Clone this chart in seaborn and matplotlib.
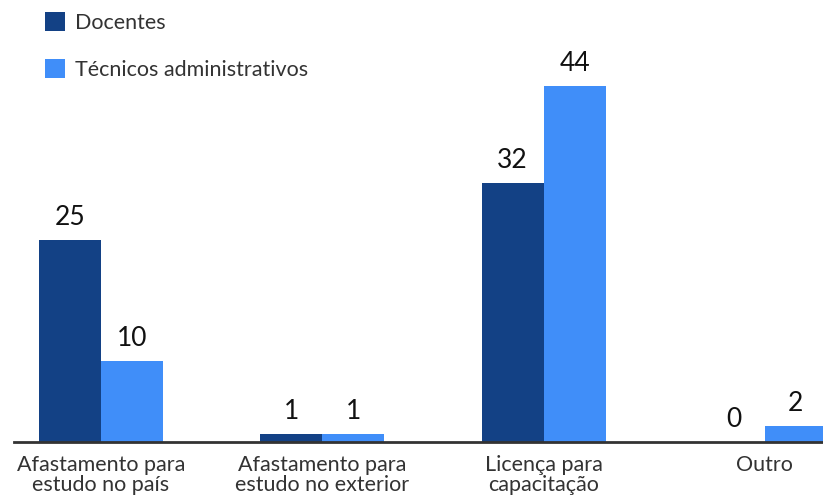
import matplotlib
matplotlib.use("Agg")
import matplotlib.pyplot as plt
import seaborn as sns
import pandas as pd

categories = ["Afastamento para\nestudo no país", "Afastamento para\nestudo no exterior",
              "Licença para\ncapacitação", "Outro"]
docentes = [25, 1, 32, 0]
tecnicos = [10, 1, 44, 2]
series_names = ["Docentes", "Técnicos administrativos"]

df = pd.DataFrame({
    "categoria": categories * 2,
    "valor": docentes + tecnicos,
    "grupo": [series_names[0]] * len(categories) + [series_names[1]] * len(categories),
})

sns.set_style("white")
plt.rcParams["font.family"] = ["Lato", "DejaVu Sans"]

fig = plt.figure(figsize=(8.23, 4.99), dpi=100)
ax = fig.add_axes([0.0, 0.1142, 1.0, 0.8858])

palette = {series_names[0]: "#134185", series_names[1]: "#408ef9"}
sns.barplot(data=df, x="categoria", y="valor", hue="grupo", palette=palette,
            width=0.56, saturation=1, linewidth=0, ax=ax, order=categories,
            hue_order=series_names)

for cont in ax.containers:
    ax.bar_label(cont, labels=[f"{v:g}" for v in cont.datavalues], padding=7,
                 fontsize=19, color="#111111")

unit = 221.3
ax.set_ylim(0, 54.6)
ax.set_xlim(-101 / unit, (823 - 101) / unit)
ax.set_xlabel("")
ax.set_ylabel("")
ax.set_yticks([])
for s in ["top", "right", "left"]:
    ax.spines[s].set_visible(False)
ax.spines["bottom"].set_color("#333333")
ax.spines["bottom"].set_linewidth(2)
ax.spines["bottom"].set_bounds((14 - 101) / unit, (823 - 101) / unit)
ax.tick_params(axis="x", length=0, pad=9, labelsize=15.5, labelcolor="#333333")
for t in ax.get_xticklabels():
    t.set_linespacing(1.0)

handles, labels = ax.get_legend_handles_labels()
ax.legend(handles, labels, loc="upper left", bbox_to_anchor=(45 / 823, 1 - 12 / 499),
          bbox_transform=fig.transFigure, frameon=False, fontsize=15.5,
          borderpad=0, borderaxespad=0,
          handlelength=0.95, handleheight=0.95, handletextpad=0.46, labelspacing=1.23,
          labelcolor="#333333")

fig.savefig("out.png", dpi=100)
